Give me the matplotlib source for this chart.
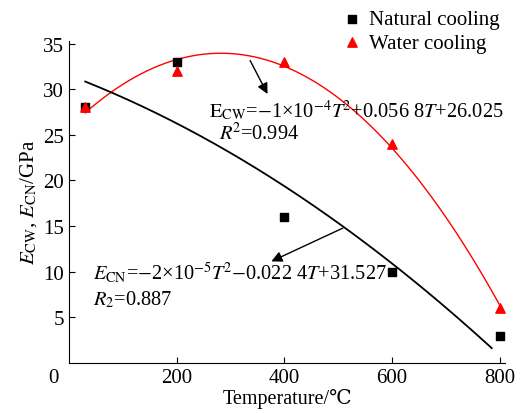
import numpy as np
import matplotlib
matplotlib.use('Agg')
import matplotlib.pyplot as plt

plt.rcParams['font.family'] = ['Liberation Serif', 'DejaVu Serif']
plt.rcParams['mathtext.fontset'] = 'stix'

# measured points
temp = [30, 200, 400, 600, 800]
natural = [28, 33, 16, 10, 3]
water = [28, 32, 33, 24, 6]

# fit coefficients as printed on the chart (a*T^2 + b*T + c)
cn_coef = [-2e-5, -0.0224, 31.527]
cn_range = (30, 785)
cw_range = (30, 800)

xticks = [200, 400, 600, 800]
yticks = [5, 10, 15, 20, 25, 30, 35]

fig = plt.figure(figsize=(5.23, 4.14), dpi=100)
ax = fig.add_axes([0.132, 0.121, 0.834, 0.778])

# red fit from the water cooling data
cw_coef = np.polyfit(temp, water, 2)
t1 = np.linspace(cw_range[0], cw_range[1], 200)
ax.plot(t1, np.polyval(cw_coef, t1), c='red', lw=1.0)
t2 = np.linspace(cn_range[0], cn_range[1], 200)
ax.plot(t2, np.polyval(cn_coef, t2), c='black', lw=1.3)

ax.scatter(temp, natural, marker='s', c='black', s=30, label='Natural cooling', zorder=3)
ax.scatter(temp, water, marker='^', c='red', s=45, label='Water cooling', zorder=3)

ax.set_xlim(0, 810)
ax.set_ylim(0, 35.3)
ax.set_xticks(xticks)
ax.set_yticks(yticks)
ax.tick_params(direction='in', labelsize=15, length=4)
ax.spines['top'].set_visible(False)
ax.spines['right'].set_visible(False)
ax.text(-0.035, -0.045, '0', transform=ax.transAxes, fontsize=15, ha='center', va='center')

ax.set_xlabel('Temperature/℃', fontsize=14.5, labelpad=1)
ax.set_ylabel(r'$E_{\mathrm{CW}}$, $E_{\mathrm{CN}}$/GPa', fontsize=15, labelpad=3)

ax.annotate('', xy=(371, 29.2), xytext=(334, 33.4),
            arrowprops=dict(arrowstyle='-|>', color='black', lw=1.0, mutation_scale=16))
ax.text(260, 27.8, r'$\mathrm{E}_{\mathrm{CW}}$=$-$1×10$^{-4}$$T$$^2$+0.056 8$T$+26.025',
        fontsize=14.7, va='center')
ax.text(279, 25.2, r'$R$$^2$=0.994', fontsize=14.7, va='center')

ax.annotate('', xy=(371, 11.0), xytext=(513, 14.9),
            arrowprops=dict(arrowstyle='-|>', color='black', lw=1.0, mutation_scale=16))
ax.text(44, 10.0, r'$E_{\mathrm{CN}}$=$-$2×10$^{-5}$$T$$^2$$-$0.022 4$T$+31.527',
        fontsize=14.7, va='center')
ax.text(44, 7.0, r'$R_2$=0.887', fontsize=14.7, va='center')

fig.legend(loc='upper left', bbox_to_anchor=(0.634, 0.995), frameon=False, fontsize=15,
           handletextpad=0.2, borderaxespad=0, labelspacing=0.2, handlelength=1.2)

fig.savefig('out.png', dpi=100)
